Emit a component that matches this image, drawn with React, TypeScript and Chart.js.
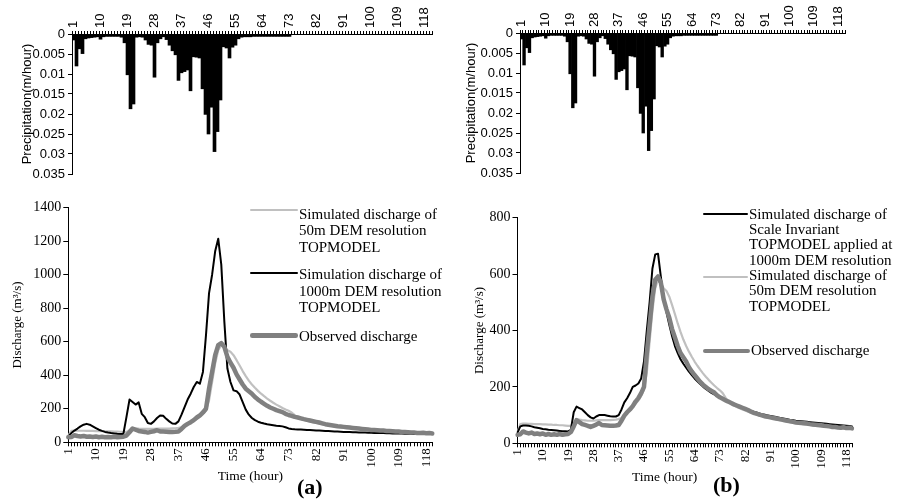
import React, { useEffect, useRef } from 'react';
import { Chart, registerables } from 'chart.js';
Chart.register(...registerables);

// ---------- DATA ----------
const hours: string[] = Array.from({ length: 120 }, (_, i) => String(i + 1));
const LABEL_STEP = 9;

const precipitation: number[] = [
  0.0015, 0.008, 0.0037, 0.0049, 0.0012, 0.001, 0.0009, 0.0008, 0.0007, 0.0013,
  0.0007, 0.0006, 0.0006, 0.0006, 0.0006, 0.0006, 0.0008, 0.0022, 0.0102, 0.0187,
  0.0175, 0.0008, 0.0007, 0.0008, 0.0015, 0.0026, 0.0028, 0.0108, 0.0022, 0.0012,
  0.0007, 0.0014, 0.0028, 0.0042, 0.0052, 0.0116, 0.0097, 0.0094, 0.009, 0.0142,
  0.0057, 0.0058, 0.006, 0.0137, 0.0201, 0.025, 0.0183, 0.0294, 0.0244, 0.0165,
  0.0032, 0.0035, 0.006, 0.0033, 0.0028, 0.0012, 0.0008, 0.0007, 0.0007, 0.0007,
  0.0006, 0.0006, 0.0006, 0.0006, 0.0006, 0.0006, 0.0006, 0.0006, 0.0006, 0.0006,
  0.0006, 0.0006, 0.0006, 0, 0, 0, 0, 0, 0, 0,
  0, 0, 0, 0, 0, 0, 0, 0, 0, 0,
  0, 0, 0, 0, 0, 0, 0, 0, 0, 0,
  0, 0, 0, 0, 0, 0, 0, 0, 0, 0,
  0, 0, 0, 0, 0, 0, 0, 0, 0, 0,
];

const observed: number[] = [
  30, 32, 42, 38, 35, 38, 33, 35, 32, 35,
  30, 33, 30, 32, 30, 33, 30, 32, 33, 40,
  60, 82, 75, 68, 65, 62, 58, 62, 66, 72,
  65, 64, 63, 62, 62, 63, 65, 80, 98, 110,
  120, 132, 148, 160, 178, 200, 320, 420, 520, 580,
  592, 570, 510, 475, 445, 405, 375, 345, 320, 305,
  290, 270, 255, 242, 230, 218, 208, 200, 192, 186,
  180, 170, 163, 158, 152, 148, 143, 138, 134, 130,
  126, 122, 118, 113, 108, 105, 102, 99, 96, 94,
  92, 90, 88, 86, 84, 82, 80, 78, 76, 74,
  73, 72, 71, 70, 68, 67, 66, 65, 64, 62,
  61, 60, 58, 58, 56, 55, 57, 54, 55, 53,
];

const sim50m: number[] = [
  40, 68, 70, 70, 69, 69, 68, 68, 68, 67,
  67, 66, 66, 65, 65, 64, 64, 63, 62, 62,
  72, 85, 84, 82, 81, 80, 80, 80, 81, 82,
  82, 82, 82, 82, 83, 84, 86, 90, 100, 110,
  118, 128, 140, 152, 168, 190, 250, 360, 470, 550,
  580, 565, 550, 540, 520, 490, 458, 425, 395, 368,
  345, 325, 307, 290, 275, 261, 248, 236, 225, 215,
  205, 196, 188, 178, 162, 148, 140, 134, 129, 124,
  120, 116, 112, 108, 105, 102, 99, 96, 93, 91,
  89, 87, 85, 83, 81, 79, 77, 75, 73, 72,
  70, 69, 67, 66, 65, 63, 62, 61, 60, 59,
  58, 57, 56, 55, 55, 54, 53, 53, 52, 52,
];

const sim1000m: number[] = [
  35, 55, 70, 82, 95, 105, 110, 105, 95, 85,
  75, 68, 62, 58, 55, 53, 51, 50, 50, 150,
  255, 240, 225, 238, 170, 150, 115, 110, 125, 145,
  160, 158, 140, 125, 112, 110, 125, 165, 210, 255,
  290, 330, 360, 350, 420, 640, 890, 1000, 1140, 1215,
  1060, 720, 440, 360, 310, 305, 285, 240, 195, 165,
  145, 132, 123, 117, 112, 108, 105, 102, 99, 97,
  95, 90, 83, 80, 78, 77, 76, 75, 74, 73,
  72, 71, 70, 69, 68, 67, 66, 65, 64, 63,
  62, 61, 61, 60, 60, 59, 58, 58, 57, 57,
  56, 56, 55, 55, 54, 54, 53, 53, 52, 52,
  51, 51, 51, 50, 50, 50, 49, 49, 49, 49,
];

const simScaleInvariant: number[] = [
  38, 60, 63, 63, 62, 60, 57, 55, 53, 51,
  50, 48, 47, 46, 45, 44, 43, 43, 42, 48,
  110, 130, 125, 120, 110, 100, 92, 88, 95, 100,
  100, 100, 98, 96, 95, 95, 100, 120, 145, 160,
  178, 200, 205, 212, 230, 290, 400, 500, 620, 670,
  672, 590, 520, 465, 420, 380, 345, 320, 298, 282,
  268, 254, 242, 230, 220, 210, 201, 193, 186, 179,
  173, 167, 162, 156, 151, 146, 141, 137, 133, 129,
  125, 121, 118, 115, 112, 109, 106, 103, 101, 99,
  97, 95, 93, 91, 89, 87, 85, 83, 82, 80,
  79, 78, 77, 76, 75, 74, 73, 72, 71, 70,
  69, 68, 67, 66, 65, 64, 63, 62, 61, 60,
];

const precipTitle = 'Precipitation(m/hour)';
const dischargeTitle = 'Discharge (m³/s)';
const timeTitle = 'Time (hour)';

const legendALabels: string[][] = [
  ['Simulated discharge of', '50m DEM resolution', 'TOPMODEL'],
  ['Simulation discharge of', '1000m DEM resolution', 'TOPMODEL'],
  ['Observed discharge'],
];
const legendBLabels: string[][] = [
  ['Simulated discharge of', 'Scale Invariant', 'TOPMODEL applied at', '1000m DEM resolution'],
  ['Simulated discharge of', '50m DEM resolution', 'TOPMODEL'],
  ['Observed discharge'],
];

// ---------- STYLE ----------
const SANS = "'Liberation Sans', Arial, sans-serif";
const SERIF = "'Liberation Serif', 'Times New Roman', serif";
const BLACK = '#000000';
const LIGHT = '#c0c0c0';
const GREY = '#808080';

const tickLabel = (_v: any, i: number) => (i % LABEL_STEP === 0 ? hours[i] : '');

function precipConfig(p: { yWidth: number; xHeight: number; titlePad: number; right: number; bottom: number }): any {
  return {
    type: 'bar',
    data: {
      labels: hours,
      datasets: [
        {
          data: precipitation,
          backgroundColor: BLACK,
          borderWidth: 0,
          barPercentage: 1,
          categoryPercentage: 1,
        },
      ],
    },
    options: {
      animation: false,
      responsive: false,
      devicePixelRatio: 1,
      layout: { padding: { left: 0, right: p.right, top: 0, bottom: p.bottom } },
      plugins: { legend: { display: false }, tooltip: { enabled: false } },
      scales: {
        x: {
          position: 'top',
          offset: true,
          grid: { drawOnChartArea: false, drawTicks: true, tickLength: 3, color: BLACK, offset: true },
          border: { display: true, color: BLACK, width: 1 },
          ticks: {
            autoSkip: false,
            minRotation: 90,
            maxRotation: 90,
            padding: 3,
            labelOffset: 15.6,
            color: BLACK,
            font: { family: SANS, size: 13 },
            callback: tickLabel,
          },
          afterFit: (s: any) => {
            s.height = p.xHeight;
          },
        },
        y: {
          reverse: true,
          min: 0,
          max: 0.035,
          grid: { drawOnChartArea: false, drawTicks: true, tickLength: 4, color: BLACK },
          border: { display: true, color: BLACK, width: 1 },
          ticks: {
            stepSize: 0.005,
            padding: 3,
            color: BLACK,
            font: { family: SANS, size: 13 },
            callback: (v: any) => String(parseFloat(Number(v).toFixed(3))),
          },
          title: {
            display: true,
            text: precipTitle,
            color: BLACK,
            font: { family: SANS, size: 13 },
            padding: { top: p.titlePad, bottom: 0 },
          },
          afterFit: (s: any) => {
            s.width = p.yWidth;
          },
        },
      },
    },
  };
}

function line(data: number[], color: string, width: number) {
  return {
    data,
    borderColor: color,
    backgroundColor: color,
    borderWidth: width,
    pointRadius: 0,
    tension: 0,
    borderJoinStyle: 'round',
    borderCapStyle: 'round',
    fill: false,
  };
}

function dischargeConfig(p: {
  datasets: any[];
  max: number;
  yWidth: number;
  xHeight: number;
  yTitlePad: number;
  xTitle: boolean;
  xTitlePad: number;
  top: number;
  right: number;
}): any {
  return {
    type: 'line',
    data: { labels: hours, datasets: p.datasets },
    options: {
      animation: false,
      responsive: false,
      devicePixelRatio: 1,
      layout: { padding: { left: 0, right: p.right, top: p.top, bottom: 0 } },
      plugins: { legend: { display: false }, tooltip: { enabled: false } },
      scales: {
        x: {
          offset: false,
          grid: { drawOnChartArea: false, drawTicks: true, tickLength: 4, color: BLACK, offset: false },
          border: { display: true, color: BLACK, width: 1 },
          ticks: {
            autoSkip: false,
            minRotation: 90,
            maxRotation: 90,
            padding: 2,
            color: BLACK,
            font: { family: SERIF, size: 13 },
            callback: tickLabel,
          },
          title: {
            display: p.xTitle,
            text: timeTitle,
            color: BLACK,
            font: { family: SERIF, size: 13.5 },
            padding: { top: 0, bottom: p.xTitlePad },
          },
          afterFit: (s: any) => {
            s.height = p.xHeight;
          },
        },
        y: {
          min: 0,
          max: p.max,
          grid: { drawOnChartArea: false, drawTicks: true, tickLength: 5, color: BLACK },
          border: { display: true, color: BLACK, width: 1 },
          ticks: {
            stepSize: 200,
            padding: 2,
            color: BLACK,
            font: { family: SERIF, size: 14 },
            callback: (v: any) => String(v),
          },
          title: {
            display: true,
            text: dischargeTitle,
            color: BLACK,
            font: { family: SERIF, size: 13 },
            padding: { top: p.yTitlePad, bottom: 0 },
          },
          afterFit: (s: any) => {
            s.width = p.yWidth;
          },
        },
      },
    },
  };
}

function ChartBox(props: { make: () => any; left: number; top: number; width: number; height: number }) {
  const ref = useRef<HTMLCanvasElement | null>(null);
  useEffect(() => {
    const chart = new Chart(ref.current as HTMLCanvasElement, props.make());
    return () => chart.destroy();
  }, []);
  const { left, top, width, height } = props;
  return (
    <div style={{ position: 'absolute', left, top, width, height }}>
      <canvas ref={ref} width={width} height={height} style={{ display: 'block', width, height }} />
    </div>
  );
}

function LegendEntry(props: {
  lines: string[];
  color: string;
  lw: number;
  lineX0: number;
  lineX1: number;
  lineY: number;
  textX: number;
  textTop: number;
  lh: number;
}) {
  const { lines, color, lw, lineX0, lineX1, lineY, textX, textTop, lh } = props;
  return (
    <>
      <div
        style={{
          position: 'absolute',
          left: lineX0,
          top: lineY - lw / 2,
          width: lineX1 - lineX0,
          height: lw,
          background: color,
          borderRadius: lw / 2,
        }}
      />
      <div
        style={{
          position: 'absolute',
          left: textX,
          top: textTop,
          fontFamily: SERIF,
          fontSize: 15,
          lineHeight: lh + 'px',
          color: BLACK,
          whiteSpace: 'nowrap',
        }}
      >
        {lines.map((t, i) => (
          <div key={i}>{t}</div>
        ))}
      </div>
    </>
  );
}

export default function App() {
  return (
    <div style={{ position: 'absolute', left: 0, top: 0, width: 898, height: 502, background: '#fff', overflow: 'hidden' }}>
      <ChartBox
        left={0}
        top={0}
        width={450}
        height={190}
        make={() => precipConfig({ yWidth: 72, xHeight: 34, titlePad: 19.7, right: 18, bottom: 16 })}
      />
      <ChartBox
        left={450}
        top={0}
        width={448}
        height={190}
        make={() => precipConfig({ yWidth: 70, xHeight: 33, titlePad: 13.9, right: 53, bottom: 17 })}
      />
      <ChartBox
        left={0}
        top={195}
        width={450}
        height={307}
        make={() =>
          dischargeConfig({
            datasets: [line(observed, GREY, 4.5), line(sim1000m, BLACK, 2), line(sim50m, LIGHT, 2.2)],
            max: 1400,
            yWidth: 68.3,
            xHeight: 59.7,
            yTitlePad: 10.2,
            xTitle: true,
            xTitlePad: 17,
            top: 12.7,
            right: 15,
          })
        }
      />
      <ChartBox
        left={450}
        top={195}
        width={448}
        height={307}
        make={() =>
          dischargeConfig({
            datasets: [line(observed, GREY, 4.5), line(simScaleInvariant, BLACK, 2), line(sim50m, LIGHT, 2.2)],
            max: 800,
            yWidth: 67.5,
            xHeight: 58.7,
            yTitlePad: 22.2,
            xTitle: false,
            xTitlePad: 17.2,
            top: 22.7,
            right: 46,
          })
        }
      />
      <div
        style={{
          position: 'absolute',
          left: 632,
          top: 468.6,
          fontFamily: SERIF,
          fontSize: 13.5,
          lineHeight: '16.2px',
          color: BLACK,
          whiteSpace: 'nowrap',
        }}
      >
        {timeTitle}
      </div>

      {/* Legend (a) */}
      <LegendEntry lines={legendALabels[0]} color={LIGHT} lw={2.5} lineX0={250} lineX1={298} lineY={210} textX={299} textTop={205.7} lh={16.5} />
      <LegendEntry lines={legendALabels[1]} color={BLACK} lw={2.2} lineX0={250} lineX1={298} lineY={273.3} textX={299} textTop={266.2} lh={16.5} />
      <LegendEntry lines={legendALabels[2]} color={GREY} lw={4.5} lineX0={250} lineX1={298} lineY={335.7} textX={299} textTop={328.2} lh={16.5} />

      {/* Legend (b) */}
      <LegendEntry lines={legendBLabels[0]} color={BLACK} lw={2.2} lineX0={703} lineX1={748} lineY={214.3} textX={749} textTop={206.8} lh={15.3} />
      <LegendEntry lines={legendBLabels[1]} color={LIGHT} lw={2.5} lineX0={703} lineX1={748} lineY={277} textX={749} textTop={268} lh={15.3} />
      <LegendEntry lines={legendBLabels[2]} color={GREY} lw={4.5} lineX0={703} lineX1={750} lineY={351} textX={751} textTop={343.3} lh={15.3} />

      <div style={{ position: 'absolute', left: 297, top: 476, fontFamily: SERIF, fontWeight: 'bold', fontSize: 22, lineHeight: '22px', color: BLACK }}>
        (a)
      </div>
      <div style={{ position: 'absolute', left: 713, top: 474, fontFamily: SERIF, fontWeight: 'bold', fontSize: 22, lineHeight: '22px', color: BLACK }}>
        (b)
      </div>
    </div>
  );
}
